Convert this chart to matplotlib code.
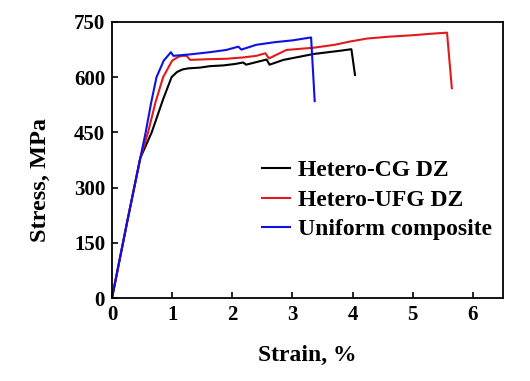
import matplotlib.pyplot as plt

plt.rcParams['font.family'] = ['Liberation Serif', 'DejaVu Serif']
plt.rcParams['font.weight'] = 'bold'

# Hetero-CG DZ
cg_strain = [0, 0.25, 0.47, 0.66, 0.85, 0.99, 1.08, 1.17, 1.27, 1.46, 1.63, 1.85, 2.05, 2.18, 2.23, 2.40,
             2.57, 2.62, 2.85, 3.10, 3.35, 3.60, 3.80, 3.98, 4.04]
cg_stress = [0, 205, 380, 450, 540, 600, 614, 621, 624, 626, 630, 632, 636, 640, 634, 641,
             648, 634, 647, 655, 663, 668, 672, 676, 606]

# Hetero-UFG DZ
ufg_strain = [0, 0.25, 0.47, 0.60, 0.72, 0.85, 1.0, 1.10, 1.16, 1.24, 1.30, 1.63, 1.90, 2.20, 2.40, 2.55,
              2.61, 2.90, 3.35, 3.70, 3.96, 4.24, 4.60, 5.00, 5.30, 5.57, 5.65]
ufg_stress = [0, 205, 380, 450, 530, 600, 645, 655, 658, 658, 647, 649, 650, 654, 658, 665,
              651, 674, 680, 688, 697, 705, 710, 714, 718, 721, 570]

# Uniform composite
uni_strain = [0, 0.25, 0.47, 0.56, 0.65, 0.74, 0.86, 0.98, 1.02, 1.30, 1.63, 1.90, 2.10, 2.15, 2.40,
              2.70, 3.00, 3.31, 3.37]
uni_stress = [0, 205, 380, 450, 530, 600, 645, 668, 658, 662, 668, 674, 683, 675, 688,
              695, 700, 708, 535]

fig = plt.figure(figsize=(5.3, 3.81), dpi=100)
ax = fig.add_axes([0.2113, 0.2178, 0.7377, 0.7245])
ax.plot(cg_strain, cg_stress, color='black', lw=1.5, label='Hetero-CG DZ')
ax.plot(ufg_strain, ufg_stress, color='#e31a1c', lw=1.5, label='Hetero-UFG DZ')
ax.plot(uni_strain, uni_stress, color='#1010e0', lw=1.5, label='Uniform composite')

ax.set_xlim(0, 6.5)
ax.set_ylim(0, 750)
ax.set_xticks([0, 1, 2, 3, 4, 5, 6])
ax.set_yticks([0, 150, 300, 450, 600, 750])
ax.tick_params(direction='in', length=4, width=1.2, labelsize=15, pad=5)
for s in ax.spines.values():
    s.set_linewidth(1.3)
ax.set_xlabel('Strain, %', fontsize=17, fontweight='bold')
ax.set_ylabel('Stress, MPa', fontsize=17.5, fontweight='bold')
ax.xaxis.set_label_coords(0.5, -0.17, transform=ax.transAxes)
ax.yaxis.set_label_coords(-0.155, 0.428, transform=ax.transAxes)

ax.legend(loc='center left', bbox_to_anchor=(0.384, 0.355), frameon=False,
          prop={'size': 17, 'weight': 'bold'}, handlelength=1.2,
          handletextpad=0.3, labelspacing=0.33, borderpad=0, borderaxespad=0)

fig.savefig('out.png', dpi=100)
